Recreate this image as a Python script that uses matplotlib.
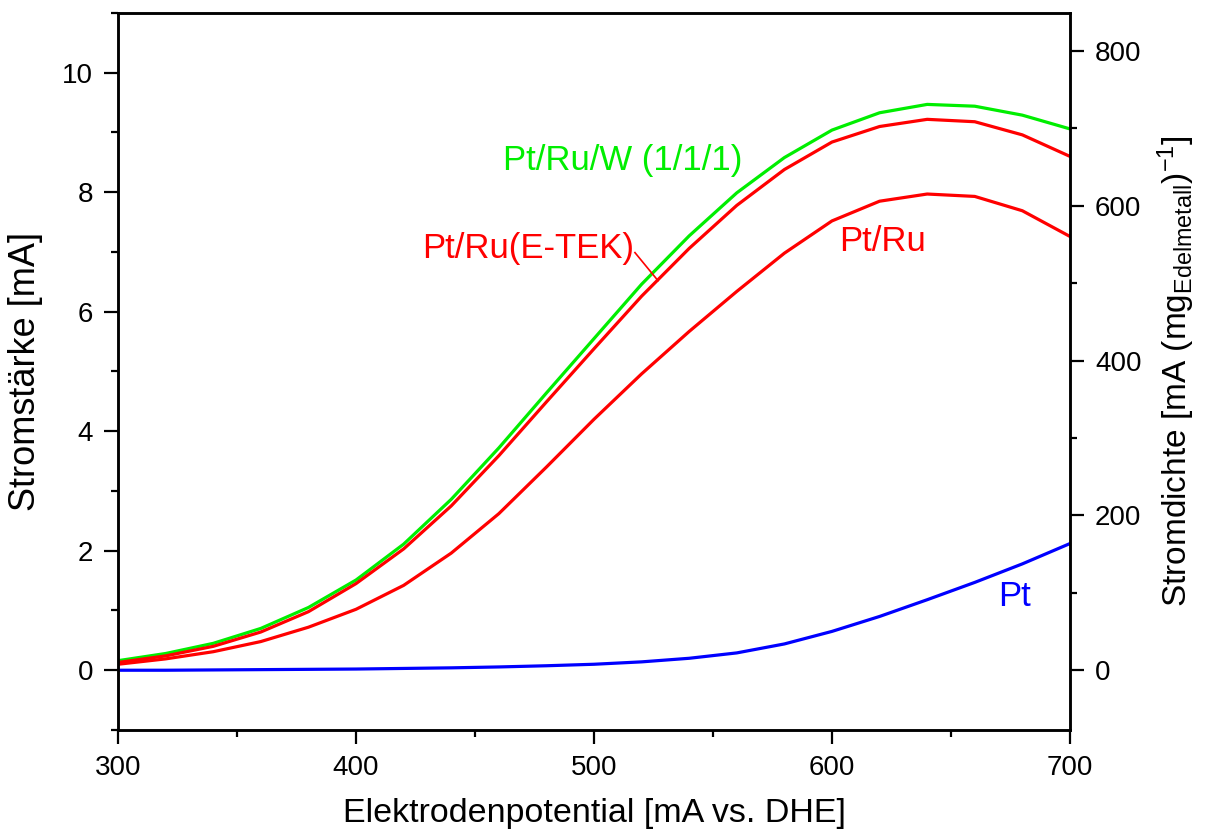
import matplotlib
matplotlib.use("Agg")
import matplotlib.pyplot as plt
from matplotlib.ticker import MultipleLocator

plt.rcParams["font.family"] = ["Liberation Sans", "DejaVu Sans"]
plt.rcParams["mathtext.fontset"] = "custom"
plt.rcParams["mathtext.rm"] = "Liberation Sans"
plt.rcParams["mathtext.it"] = "Liberation Sans:italic"

# potential [mV vs. DHE]
potential = [300, 320, 340, 360, 380, 400, 420, 440, 460, 480, 500,
             520, 540, 560, 580, 600, 620, 640, 660, 680, 700]

# current [mA]
i_ptruw = [0.16, 0.28, 0.45, 0.70, 1.05, 1.51, 2.11, 2.86, 3.72, 4.64, 5.55,
           6.46, 7.27, 7.99, 8.58, 9.04, 9.33, 9.47, 9.44, 9.29, 9.06]
i_etek  = [0.13, 0.24, 0.40, 0.64, 0.98, 1.45, 2.03, 2.75, 3.59, 4.49, 5.38,
           6.26, 7.06, 7.78, 8.38, 8.84, 9.10, 9.22, 9.18, 8.96, 8.60]
i_ptru  = [0.10, 0.19, 0.31, 0.48, 0.72, 1.02, 1.42, 1.96, 2.62, 3.40, 4.20,
           4.96, 5.67, 6.34, 6.98, 7.52, 7.85, 7.97, 7.93, 7.69, 7.26]
i_pt    = [0.00, 0.00, 0.005, 0.01, 0.015, 0.02, 0.03, 0.04, 0.055, 0.075, 0.10,
           0.14, 0.20, 0.29, 0.44, 0.65, 0.90, 1.18, 1.47, 1.78, 2.12]

# mA -> mA/mg noble metal
DENS_FACTOR = 77.2

fig = plt.figure(figsize=(12.12, 8.38), dpi=100)
ax = fig.add_axes([0.0974, 0.1289, 0.7854, 0.8556])

lw = 2.3
ax.plot(potential, i_ptruw, color="#00ee00", lw=lw)
ax.plot(potential, i_etek, color="#ff0000", lw=lw)
ax.plot(potential, i_ptru, color="#ff0000", lw=lw)
ax.plot(potential, i_pt, color="#0000ff", lw=lw)

ax.set_xlim(300, 700)
ax.set_ylim(-1, 11)
ax.xaxis.set_major_locator(MultipleLocator(100))
ax.xaxis.set_minor_locator(MultipleLocator(50))
ax.yaxis.set_major_locator(MultipleLocator(2))
ax.yaxis.set_minor_locator(MultipleLocator(1))

for s in ax.spines.values():
    s.set_linewidth(1.8)

tick_kw = dict(direction="out", width=1.6, labelsize=20, pad=8)
ax.tick_params(axis="both", which="major", length=10, **tick_kw)
ax.tick_params(axis="both", which="minor", length=5, direction="out", width=1.6)
ax.tick_params(axis="y", right=False)

ax.set_xlabel("Elektrodenpotential [mA vs. DHE]", fontsize=24.5, labelpad=12)
ax.set_ylabel("Stromstärke [mA]", fontsize=26, labelpad=14)

# right axis: mass specific current density
ax2 = ax.twinx()
ax2.set_ylim(-1 * DENS_FACTOR, 11 * DENS_FACTOR)
ax2.yaxis.set_major_locator(MultipleLocator(200))
ax2.yaxis.set_minor_locator(MultipleLocator(100))
ax2.tick_params(axis="y", which="major", length=10, **tick_kw)
ax2.tick_params(axis="y", which="minor", length=5, direction="out", width=1.6)
for s in ax2.spines.values():
    s.set_linewidth(1.8)
ax2.set_ylabel(r"Stromdichte [mA (mg$_{\mathrm{Edelmetall}}$)$^{\mathrm{-1}}$]",
               fontsize=24, labelpad=10)

# curve labels
ax.text(461.8, 8.53, "Pt/Ru/W (1/1/1)", color="#00ee00", fontsize=25, va="center")
ax.text(427.7, 7.06, "Pt/Ru(E-TEK)", color="#ff0000", fontsize=25, va="center")
ax.plot([517.2, 526.9], [6.99, 6.52], color="#ff0000", lw=1.2)
ax.text(603, 7.18, "Pt/Ru", color="#ff0000", fontsize=25, va="center")
ax.text(669.7, 1.24, "Pt", color="#0000ff", fontsize=25, va="center")

fig.savefig("out.png", dpi=100)
